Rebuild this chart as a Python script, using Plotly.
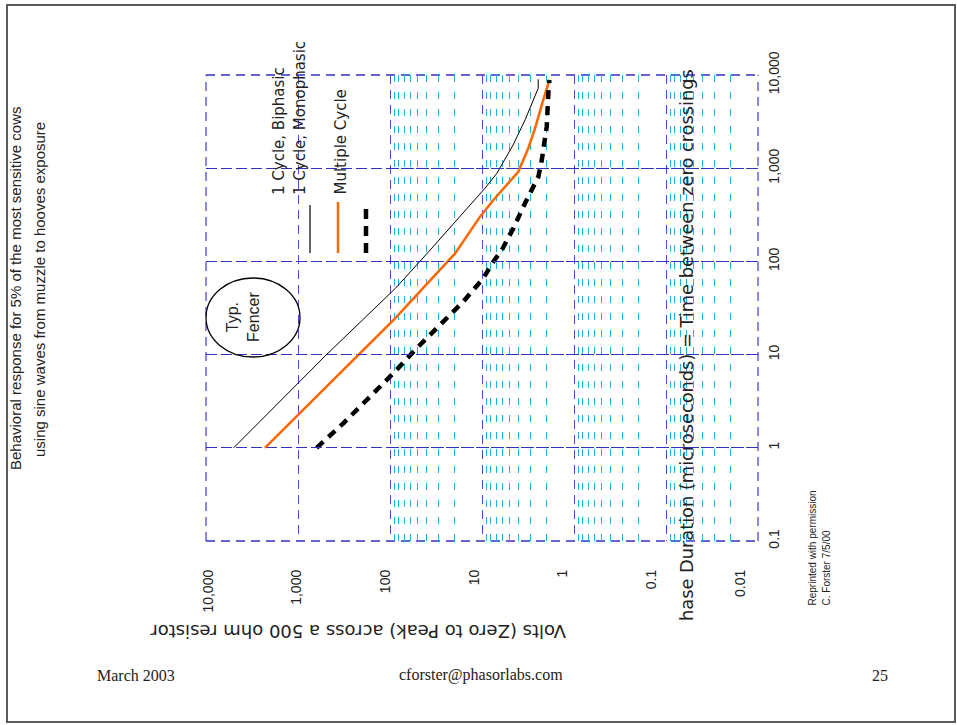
import plotly.graph_objects as go

# ---------------- data ----------------
volts_ticks = [10000, 1000, 100, 10, 1, 0.1, 0.01]
volts_tick_text = ["10,000", "1,000", "100", "10", "1", "0.1", "0.01"]
dur_ticks = [0.1, 1, 10, 100, 1000, 10000]
dur_tick_text = ["0.1", "1", "10", "100", "1,000", "10,000"]

biphasic_dur = [1, 10, 51, 127, 608, 880, 1770, 3300, 7200, 9000]
biphasic_volts = [5000, 490, 88, 38, 9.3, 6.9, 4.6, 3.4, 2.45, 2.45]

monophasic_dur = [1, 24.5, 122, 302, 456, 916, 1636, 2682, 5395, 8840]
monophasic_volts = [2290, 88, 19.6, 10.5, 7.5, 4.03, 3.14, 2.65, 2.16, 1.85]

multi_dur = [1, 1.83, 3.26, 6.3, 11.7, 23.5, 37, 65.9, 99.3, 132, 226, 420, 634, 811,
             1225, 2786, 6370, 8840]
multi_volts = [627, 322, 179, 92, 51.3, 25.2, 16.0, 9.69, 7.53, 6.1, 4.57, 3.41, 2.77,
               2.44, 2.24, 1.98, 1.90, 1.85]

legend_labels = ["1 Cycle, Biphasic", "1 Cycle, Monophasic", "Multiple Cycle"]

# ---------------- layout helpers ----------------
W, H = 957, 725
L, R, T, B = 206, 758, 75, 541


def px(x):
    return (x - L) / (R - L)


def py(y):
    return (B - y) / (B - T)


SANS = "Liberation Sans, Arial, sans-serif"
WIDE = "DejaVu Sans, Verdana, sans-serif"
SERIF = "Liberation Serif, Times New Roman, serif"
MAJOR = "#4b4bd8"
MAJOR_H = "#3232c0"
MINOR = "#22b0e6"
MAJOR_DASH = "9px,6px"

fig = go.Figure()

# invisible traces to build the minor-grid subplot (x) and tick-label axis (x3)
fig.add_trace(go.Scatter(x=[1], y=[1], xaxis="x", yaxis="y", mode="markers",
                         marker=dict(opacity=0), hoverinfo="skip", showlegend=False))

fig.add_trace(go.Scatter(x=biphasic_volts, y=biphasic_dur, xaxis="x2", yaxis="y",
                         mode="lines", line=dict(color="black", width=1),
                         name=legend_labels[0], showlegend=False))
fig.add_trace(go.Scatter(x=monophasic_volts, y=monophasic_dur, xaxis="x2", yaxis="y",
                         mode="lines", line=dict(color="#ff6600", width=2.5),
                         name=legend_labels[1], showlegend=False))
fig.add_trace(go.Scatter(x=multi_volts, y=multi_dur, xaxis="x2", yaxis="y",
                         mode="lines", line=dict(color="black", width=4.5, dash="9px,7px"),
                         name=legend_labels[2], showlegend=False))

fig.add_trace(go.Scatter(x=[1], y=[1], xaxis="x3", yaxis="y", mode="markers",
                         marker=dict(opacity=0), hoverinfo="skip", showlegend=False))

fig.update_layout(
    width=W, height=H,
    margin=dict(l=L, r=W - R, t=T, b=H - B),
    paper_bgcolor="white",
    plot_bgcolor="rgba(0,0,0,0)",
    showlegend=False,
    font=dict(family=SANS, color="#222222", size=14),
    xaxis=dict(
        type="log", domain=[px(390), 1], range=[2, -2], anchor="y",
        showgrid=False, showticklabels=False, zeroline=False, showline=False,
        dtick=1,
        minor=dict(dtick="D1", showgrid=True, gridcolor=MINOR, gridwidth=1.2,
                   griddash="7px,10px", ticks=""),
    ),
    xaxis2=dict(
        type="log", domain=[0, 1], range=[4, -2], anchor="y",
        tickvals=volts_ticks, showticklabels=False,
        showgrid=True, gridcolor=MAJOR, gridwidth=1.3, griddash=MAJOR_DASH,
        zeroline=False, showline=False, ticks="",
    ),
    xaxis3=dict(
        type="log", domain=[px(208), px(740)], range=[4, -2], anchor="y",
        tickvals=volts_ticks, ticktext=volts_tick_text, tickangle=-90,
        showgrid=False, zeroline=False, showline=False, ticks="",
        ticklabelstandoff=25,
        tickfont=dict(family=SANS, size=14, color="#222222"),
    ),
    yaxis=dict(
        type="log", domain=[0, 1], range=[-1, 4], anchor="x2", side="right",
        tickvals=dur_ticks, ticktext=dur_tick_text, tickangle=-90,
        showgrid=True, gridcolor=MAJOR_H, gridwidth=1.3, griddash=MAJOR_DASH,
        zeroline=False, showline=False, ticks="", ticklabelstandoff=6,
        tickfont=dict(family=SANS, size=14, color="#222222"),
    ),
)

shapes = []
# slide border
shapes.append(dict(type="rect", xref="paper", yref="paper",
                   x0=px(7), x1=px(955), y0=py(722), y1=py(5),
                   line=dict(color="#5a5a5a", width=2), fillcolor="rgba(0,0,0,0)"))
# plot-area frame (end grid lines)
for xx in (0, 1):
    shapes.append(dict(type="line", xref="paper", yref="paper", layer="below",
                       x0=xx, x1=xx, y0=0, y1=1,
                       line=dict(color=MAJOR, width=1.3, dash=MAJOR_DASH)))
for yy in (0, 1):
    shapes.append(dict(type="line", xref="paper", yref="paper", layer="below",
                       x0=0, x1=1, y0=yy, y1=yy,
                       line=dict(color=MAJOR_H, width=1.3, dash=MAJOR_DASH)))
# Typ. Fencer ellipse
shapes.append(dict(type="circle", xref="paper", yref="paper",
                   x0=px(206), x1=px(300), y0=py(357), y1=py(278),
                   line=dict(color="black", width=1.3)))
# legend samples
shapes.append(dict(type="line", xref="paper", yref="paper",
                   x0=px(310), x1=px(310), y0=py(253), y1=py(205),
                   line=dict(color="black", width=1.2)))
shapes.append(dict(type="line", xref="paper", yref="paper",
                   x0=px(338), x1=px(338), y0=py(253), y1=py(202),
                   line=dict(color="#ff6600", width=2.5)))
shapes.append(dict(type="line", xref="paper", yref="paper",
                   x0=px(366), x1=px(366), y0=py(253), y1=py(204),
                   line=dict(color="black", width=4.5, dash="10px,7px")))
fig.update_layout(shapes=shapes)

ann = []


def add_text(text, x, y, size, angle=-90, family=SANS, xanchor="center",
             yanchor="middle", color="#222222"):
    ann.append(dict(text=text, x=px(x), y=py(y), xref="paper", yref="paper",
                    showarrow=False, textangle=angle, xanchor=xanchor, yanchor=yanchor,
                    font=dict(family=family, size=size, color=color)))


add_text("Behavioral response for 5% of the most sensitive cows", 15, 288, 15)
add_text("using sine waves from muzzle to hooves exposure", 39, 290, 15)
add_text(legend_labels[0], 279, 197, 15, family=WIDE, yanchor="bottom")
add_text(legend_labels[1], 300, 197, 15, family=WIDE, yanchor="bottom")
add_text(legend_labels[2], 340, 197, 15, family=WIDE, yanchor="bottom")
add_text("Typ.<br>Fencer", 243, 317, 16)
add_text("hase Duration (microseconds) = Time between zero crossings", 686, 345, 17.8,
         family=WIDE)
add_text("Volts (Zero to Peak) across a 500 ohm resistor", 358, 632, 18, angle=180,
         family=WIDE)
add_text("Reprinted with permission", 812, 608, 10, yanchor="bottom")
add_text("C. Forster 7/5/00", 826, 608, 10, yanchor="bottom")
add_text("March 2003", 136, 675, 16, angle=0, family=SERIF)
add_text("cforster@phasorlabs.com", 481, 675, 16, angle=0, family=SERIF)
add_text("25", 880, 675, 16, angle=0, family=SERIF)
fig.update_layout(annotations=ann)

fig.write_html("out.html")
